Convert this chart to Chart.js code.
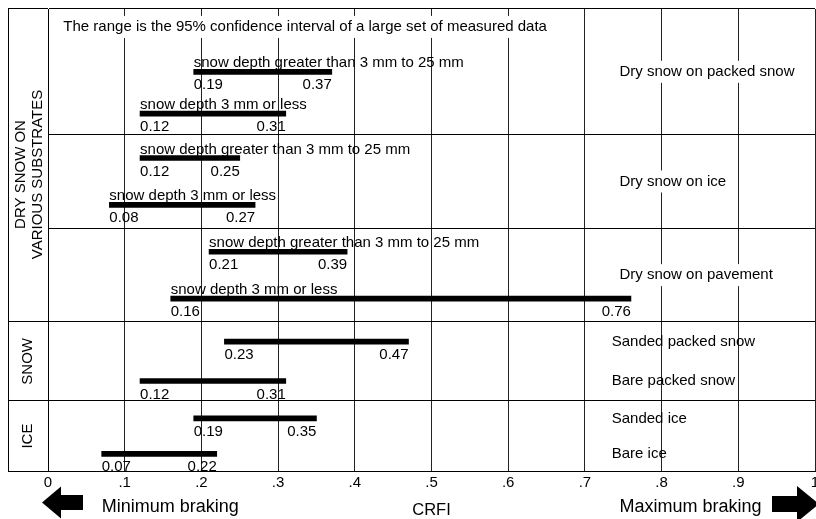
<!DOCTYPE html>
<html>
<head>
<meta charset="utf-8">
<title>CRFI ranges</title>
<script src="https://cdn.jsdelivr.net/npm/chart.js@4.4.0/dist/chart.umd.min.js"></script>
<style>
  html, body { margin: 0; padding: 0; background: #fff; overflow: hidden; }
  #wrap { position: relative; width: 830px; height: 519px; }
</style>
</head>
<body>
<div id="wrap"><canvas id="crfiChart"></canvas></div>
<script>
// CRFI ranges (95% confidence) for winter surfaces

const note = 'The range is the 95% confidence interval of a large set of measured data';
const depthClasses = ['snow depth greater than 3 mm to 25 mm', 'snow depth 3 mm or less'];

// dry snow on various substrates, one row per substrate
const drySurfaces = ['Dry snow on packed snow', 'Dry snow on ice', 'Dry snow on pavement'];
const deepLow = [0.19, 0.12, 0.21];
const deepHigh = [0.37, 0.25, 0.39];
const shallowLow = [0.12, 0.08, 0.16];
const shallowHigh = [0.31, 0.27, 0.76];

const snowSurfaces = ['Sanded packed snow', 'Bare packed snow'];
const snowLow = [0.23, 0.12];
const snowHigh = [0.47, 0.31];

const iceSurfaces = ['Sanded ice', 'Bare ice'];
const iceLow = [0.19, 0.07];
const iceHigh = [0.35, 0.22];

const xTickLabels = ['0', '.1', '.2', '.3', '.4', '.5', '.6', '.7', '.8', '.9', '1'];
const dryGroup = ['DRY SNOW ON', 'VARIOUS SUBSTRATES'];
const axisTitle = 'CRFI';
const endLabels = ['Minimum braking', 'Maximum braking'];

const FONT = '"Liberation Sans", Arial, Helvetica, sans-serif';
Chart.defaults.font.family = FONT;
Chart.defaults.color = '#000';

const CLEAR = 'rgba(0,0,0,0)';

// one stacked category axis per table row
function rowAxis(labels, weight, order, topEdge, bottomEdge, title) {
    return {
        type: 'category',
        axis: 'y',
        position: 'left',
        stack: 'rows',
        stackWeight: weight,
        weight: order,
        labels: labels,
        offset: true,
        grid: {
            offset: true,
            drawOnChartArea: true,
            tickLength: 40,
            lineWidth: 1,
            color: c => (c.type !== 'tick' || c.index === 0) ? '#000' : CLEAR,
            tickColor: c => ((c.type === 'tick' && c.index === 0 && topEdge) ||
                             (c.type !== 'tick' && bottomEdge)) ? '#000' : CLEAR
        },
        border: { display: true, color: '#000', width: 1 },
        ticks: { display: false },
        title: title
            ? { display: true, text: title, color: '#000', font: { size: 15 }, padding: { top: 11, bottom: 0 } }
            : { display: false },
        afterFit: s => { s.width = 40; }
    };
}

const rowIds = ['yPacked', 'yOnIce', 'yPavement'];
const barStyle = { backgroundColor: '#000', borderColor: '#000', borderWidth: 0 };

const datasets = drySurfaces.map((name, i) => Object.assign({
    label: name,
    yAxisID: rowIds[i],
    data: (i === 0 ? [null] : []).concat([[deepLow[i], deepHigh[i]], [shallowLow[i], shallowHigh[i]]]),
    captions: (i === 0 ? [null] : []).concat(depthClasses),
    rowName: name
}, barStyle));
datasets.push(Object.assign({
    label: 'SNOW',
    yAxisID: 'ySnow',
    data: snowLow.map((v, i) => [v, snowHigh[i]]),
    names: snowSurfaces
}, barStyle));
datasets.push(Object.assign({
    label: 'ICE',
    yAxisID: 'yIce',
    data: iceLow.map((v, i) => [v, iceHigh[i]]),
    names: iceSurfaces
}, barStyle));

// labels, note, frame and arrows
const annotate = {
    id: 'annotate',
    afterDatasetsDraw(chart) {
        const { ctx, chartArea, scales } = chart;
        const x = scales.x;
        ctx.save();
        ctx.fillStyle = '#000';
        ctx.font = '15px ' + FONT;

        chart.data.datasets.forEach((ds, di) => {
            const meta = chart.getDatasetMeta(di);
            const yAx = scales[ds.yAxisID];
            meta.data.forEach((bar, i) => {
                const v = ds.data[i];
                if (!v) return;
                const left = Math.min(bar.base, bar.x);
                const right = Math.max(bar.base, bar.x);
                const top = bar.y - bar.height / 2;
                const bottom = bar.y + bar.height / 2;
                ctx.textBaseline = 'alphabetic';
                if (ds.captions && ds.captions[i]) {
                    ctx.textAlign = 'left';
                    ctx.fillText(ds.captions[i], left, top - 2);
                }
                ctx.textAlign = 'left';
                ctx.fillText(v[0].toFixed(2), left, bottom + 15);
                ctx.textAlign = 'right';
                ctx.fillText(v[1].toFixed(2), right, bottom + 15);
                if (ds.names) {
                    ctx.textAlign = 'left';
                    ctx.textBaseline = 'middle';
                    ctx.fillText(ds.names[i], x.getPixelForValue(0.735), bar.y);
                }
            });
            if (ds.rowName) {
                const cy = (yAx.top + yAx.bottom) / 2;
                const lx = x.getPixelForValue(0.745);
                const w = ctx.measureText(ds.rowName).width;
                ctx.fillStyle = '#fff';
                ctx.fillRect(lx - 3, cy - 11, w + 6, 22);
                ctx.fillStyle = '#000';
                ctx.textAlign = 'left';
                ctx.textBaseline = 'middle';
                ctx.fillText(ds.rowName, lx, cy);
            }
        });

        // note in the first slot
        const yP = scales.yPacked;
        const ny = yP.getPixelForValue(0) - 3;
        const nx = x.getPixelForValue(0.02);
        const nw = ctx.measureText(note).width;
        ctx.fillStyle = '#fff';
        ctx.fillRect(nx - 3, ny - 11, nw + 6, 22);
        ctx.fillStyle = '#000';
        ctx.textAlign = 'left';
        ctx.textBaseline = 'middle';
        ctx.fillText(note, nx, ny);

        // group label for the dry snow rows
        const gy = (yP.top + scales.yPavement.bottom) / 2 + 9;
        ctx.save();
        ctx.translate(yP.left + 13, gy);
        ctx.rotate(-Math.PI / 2);
        ctx.textAlign = 'center';
        ctx.textBaseline = 'middle';
        ctx.fillText(dryGroup[0], 0, 0);
        ctx.fillText(dryGroup[1], 0, 16.5);
        ctx.restore();

        // left frame line
        ctx.strokeStyle = '#000';
        ctx.lineWidth = 1;
        ctx.beginPath();
        ctx.moveTo(yP.left + 0.5, chartArea.top);
        ctx.lineTo(yP.left + 0.5, chartArea.bottom);
        ctx.stroke();

        // braking ends
        const by = chartArea.bottom + 40;
        ctx.font = '18px ' + FONT;
        ctx.textBaseline = 'alphabetic';
        ctx.textAlign = 'left';
        ctx.fillText(endLabels[0], x.getPixelForValue(0.07), by);
        ctx.fillText(endLabels[1], x.getPixelForValue(0.745), by);

        const ay = chartArea.bottom + 31;
        const lt = x.left - 6;
        ctx.beginPath();
        ctx.moveTo(lt, ay);
        ctx.lineTo(lt + 19, ay - 16);
        ctx.lineTo(lt + 19, ay - 7.5);
        ctx.lineTo(lt + 41, ay - 7.5);
        ctx.lineTo(lt + 41, ay + 7.5);
        ctx.lineTo(lt + 19, ay + 7.5);
        ctx.lineTo(lt + 19, ay + 16);
        ctx.closePath();
        ctx.fill();

        const rt = x.right - 43;
        const ry = ay + 1.5;
        ctx.beginPath();
        ctx.moveTo(rt, ry - 8);
        ctx.lineTo(rt + 25, ry - 8);
        ctx.lineTo(rt + 25, ry - 18);
        ctx.lineTo(rt + 47, ry);
        ctx.lineTo(rt + 25, ry + 18);
        ctx.lineTo(rt + 25, ry + 8);
        ctx.lineTo(rt, ry + 8);
        ctx.closePath();
        ctx.fill();
        ctx.restore();
    }
};

new Chart(document.getElementById('crfiChart').getContext('2d'), {
    type: 'bar',
    data: { datasets: datasets },
    options: {
        indexAxis: 'y',
        responsive: true,
        maintainAspectRatio: false,
        animation: false,
        layout: { padding: { top: 9, left: 8, right: 15, bottom: 0 } },
        datasets: {
            bar: {
                borderSkipped: false,
                barThickness: 5,
                grouped: false
            }
        },
        plugins: {
            colors: { enabled: false },
            legend: { display: false },
            tooltip: { enabled: false }
        },
        scales: {
            x: {
                type: 'linear',
                position: 'bottom',
                min: 0,
                max: 1,
                grid: { color: '#222', lineWidth: 1, drawTicks: false },
                border: { display: true, color: '#000', width: 1 },
                ticks: {
                    stepSize: 0.1,
                    autoSkip: false,
                    maxRotation: 0,
                    padding: 2,
                    color: '#000',
                    font: { size: 15 },
                    callback: (v, i) => xTickLabels[i]
                },
                title: {
                    display: true,
                    text: axisTitle,
                    color: '#000',
                    font: { size: 16.5, lineHeight: 1 },
                    padding: { top: 9, bottom: 0 }
                }
            },
            yPacked: rowAxis(['note'].concat(depthClasses), 126, 5, true, false),
            yOnIce: rowAxis(depthClasses, 94, 4, false, false),
            yPavement: rowAxis(depthClasses, 94, 3, false, true),
            ySnow: rowAxis(snowSurfaces, 79, 2, true, true, 'SNOW'),
            yIce: rowAxis(iceSurfaces, 71, 1, true, true, 'ICE')
        }
    },
    plugins: [annotate]
});
</script>
</body>
</html>
